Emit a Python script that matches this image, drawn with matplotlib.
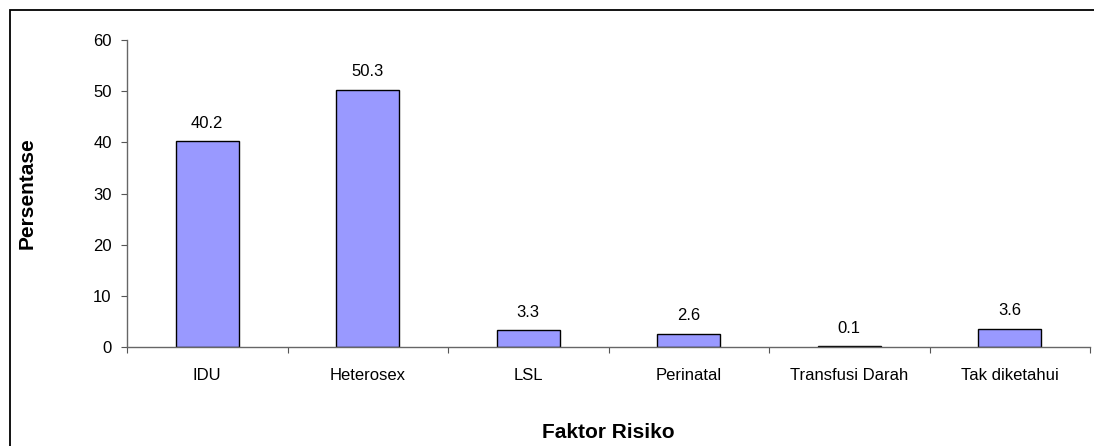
import matplotlib
matplotlib.use('Agg')
import matplotlib.pyplot as plt
from matplotlib.patches import Rectangle

# data
categories = ["IDU", "Heterosex", "LSL", "Perinatal", "Transfusi Darah", "Tak diketahui"]
values = [40.2, 50.3, 3.3, 2.6, 0.1, 3.6]
y_ticks = [0, 10, 20, 30, 40, 50, 60]

plt.rcParams['font.family'] = ['Liberation Sans', 'DejaVu Sans']

W, H = 1094, 446
fig = plt.figure(figsize=(W / 100, H / 100), dpi=100)

# outer chart frame (only left/top visible in the crop)
fig.patches.append(Rectangle((10 / W, -0.1), 1.2, 1 - 10 / H + 0.1,
                             transform=fig.transFigure, fill=False,
                             edgecolor='black', linewidth=1.3))

ax = fig.add_axes([127 / W, 1 - 347 / H, (1090 - 127) / W, (347 - 40) / H])

x = list(range(len(categories)))
ax.bar(x, values, width=0.39, color='#9999FF', edgecolor='black', linewidth=1.0)

for xi, v in zip(x, values):
    ax.annotate(f"{v}", (xi, v), xytext=(0, 13), textcoords='offset points',
                ha='center', va='center', fontsize=12)

ax.set_xlim(-0.5, len(categories) - 0.5)
ax.set_ylim(0, 60)
ax.set_yticks(y_ticks)

# boundaries as major ticks, labels on minor ticks at the centres
ax.set_xticks([i - 0.5 for i in range(len(categories) + 1)])
ax.set_xticklabels([])
ax.set_xticks(x, minor=True)
ax.set_xticklabels(categories, minor=True)
ax.tick_params(axis='x', which='minor', length=0, pad=15, labelsize=12)
ax.tick_params(axis='x', which='major', length=4, color='#555555')
ax.tick_params(axis='y', length=4, pad=7, labelsize=12, color='#555555')

for side in ['top', 'right']:
    ax.spines[side].set_visible(False)
for side in ['left', 'bottom']:
    ax.spines[side].set_color('#666666')
    ax.spines[side].set_linewidth(1.0)

fig.text(27 / W, 1 - 193 / H, "Persentase", rotation=90, ha='center', va='center',
         fontsize=15, fontweight='bold')
fig.text(608 / W, 1 - 432 / H, "Faktor Risiko", ha='center', va='center',
         fontsize=15, fontweight='bold')

fig.savefig("out.png", dpi=100)
